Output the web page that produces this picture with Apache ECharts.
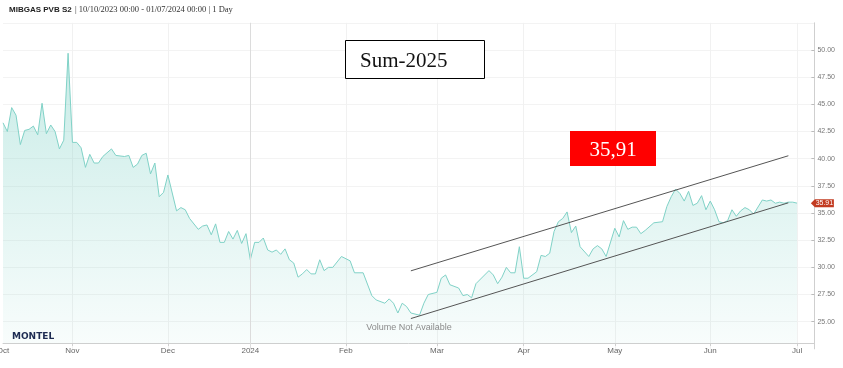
<!DOCTYPE html>
<html><head><meta charset="utf-8">
<script src="https://cdn.jsdelivr.net/npm/echarts@6/dist/echarts.min.js"></script>
<style>html,body{margin:0;padding:0;background:#fff}#c{width:843px;height:368px}</style>
</head><body><div id="c"></div>
<script>
// ---- data ----
const axisStart = '2023-10-10';
const axisEnd = '2024-07-05';
const holidays = ['2023-12-25','2023-12-26','2024-01-01','2024-03-29','2024-04-01','2024-05-01'];
const monthNames = ['Jan','Feb','Mar','Apr','May','Jun','Jul','Aug','Sep','Oct','Nov','Dec'];

const priceDates = [
'2023-10-10','2023-10-11','2023-10-12','2023-10-13','2023-10-16','2023-10-17','2023-10-18','2023-10-19','2023-10-20','2023-10-23','2023-10-24','2023-10-25','2023-10-26','2023-10-27','2023-10-30','2023-10-31',
'2023-11-01','2023-11-02','2023-11-03','2023-11-06','2023-11-07','2023-11-08','2023-11-09','2023-11-10','2023-11-14','2023-11-15','2023-11-17','2023-11-20','2023-11-21','2023-11-22','2023-11-23','2023-11-24','2023-11-27','2023-11-28','2023-11-29','2023-11-30',
'2023-12-01','2023-12-05','2023-12-06','2023-12-07','2023-12-08','2023-12-12','2023-12-13','2023-12-14','2023-12-15','2023-12-18','2023-12-19','2023-12-20','2023-12-21','2023-12-22','2023-12-27','2023-12-28','2023-12-29',
'2024-01-02','2024-01-03','2024-01-04','2024-01-05','2024-01-08','2024-01-09','2024-01-10','2024-01-11','2024-01-12','2024-01-15','2024-01-16','2024-01-17','2024-01-18','2024-01-19','2024-01-22','2024-01-23','2024-01-24','2024-01-25','2024-01-26','2024-01-29','2024-01-31',
'2024-02-02','2024-02-05','2024-02-07','2024-02-09','2024-02-12','2024-02-14','2024-02-15','2024-02-16','2024-02-19','2024-02-20','2024-02-21','2024-02-22','2024-02-26','2024-02-27','2024-02-28',
'2024-03-01','2024-03-04','2024-03-05','2024-03-06','2024-03-08','2024-03-11','2024-03-12','2024-03-13','2024-03-14','2024-03-19','2024-03-20','2024-03-21','2024-03-22','2024-03-25','2024-03-26','2024-03-27','2024-03-28',
'2024-04-02','2024-04-03','2024-04-05','2024-04-08','2024-04-09','2024-04-10','2024-04-11','2024-04-12','2024-04-15','2024-04-16','2024-04-17','2024-04-18','2024-04-19','2024-04-23','2024-04-24','2024-04-25','2024-04-26','2024-04-29',
'2024-05-02','2024-05-03','2024-05-06','2024-05-07','2024-05-08','2024-05-09','2024-05-10','2024-05-13','2024-05-15','2024-05-17','2024-05-20','2024-05-21','2024-05-22','2024-05-23','2024-05-24','2024-05-27','2024-05-28','2024-05-29','2024-05-30','2024-05-31',
'2024-06-03','2024-06-04','2024-06-05','2024-06-06','2024-06-07','2024-06-10','2024-06-11','2024-06-12','2024-06-13','2024-06-14','2024-06-17','2024-06-19','2024-06-20','2024-06-21','2024-06-24','2024-06-25','2024-06-26','2024-06-27','2024-06-28',
'2024-07-01'];
const priceValues = [
43.3,42.5,44.7,44.0,41.3,42.6,42.7,43.0,42.2,45.1,42.3,43.1,42.5,40.9,41.7,49.7,
41.5,41.5,41.0,39.2,40.4,39.6,39.6,40.2,40.9,40.3,40.2,40.3,39.2,39.5,40.3,40.5,38.6,39.6,36.5,36.9,
38.5,35.2,35.5,35.3,34.5,33.5,33.8,33.9,33.0,34.0,32.3,32.3,33.3,32.6,33.4,32.2,33.1,
30.7,32.3,32.3,32.7,31.6,31.4,31.6,31.2,31.7,30.7,30.4,29.1,29.4,29.8,29.4,29.4,30.7,29.7,30.0,30.0,31.0,
30.6,29.5,29.5,27.4,27.0,26.7,27.1,26.7,25.8,26.7,26.4,25.8,25.6,26.7,27.5,
27.7,29.0,29.3,28.4,28.1,27.4,27.5,27.2,28.5,29.7,29.3,28.5,29.1,30.0,29.5,29.5,31.9,
29.0,29.0,29.6,31.1,31.0,31.3,33.3,34.2,34.5,35.1,33.2,33.8,31.9,31.0,31.7,32.0,31.7,31.0,
33.6,32.8,34.3,33.5,33.7,33.7,33.1,33.4,34.1,34.2,35.6,36.5,37.2,36.8,36.1,37.0,35.7,35.9,36.6,35.3,
36.1,35.3,34.2,34.1,34.3,35.3,34.7,35.2,35.5,35.3,34.9,36.2,36.1,36.2,35.9,36.0,35.9,36.0,36.0,
35.91];

const trendDates = ['2024-02-22','2024-06-27'];
const upperTrendValues = [29.68, 40.27];
const lowerTrendValues = [25.29, 35.94];
const lastValue = 35.91;
const yMin = 22.5, yMax = 52.5, yStep = 2.5;
const yearMarkDate = '2024-01-02';

// ---- trading-day categories ----
function tradingDays(start, end, hol) {
  const out = [];
  let d = new Date(start + 'T00:00:00Z');
  const e = new Date(end + 'T00:00:00Z');
  while (d <= e) {
    const wd = d.getUTCDay();
    const s = d.toISOString().slice(0, 10);
    if (wd !== 0 && wd !== 6 && hol.indexOf(s) < 0) out.push(s);
    d = new Date(d.getTime() + 86400000);
  }
  return out;
}
const categories = tradingDays(axisStart, axisEnd, holidays);
function isMonthStart(i) {
  return i === 0 || categories[i].slice(0, 7) !== categories[i - 1].slice(0, 7);
}
const zip = (a, b) => a.map((v, i) => [v, b[i]]);

const chart = echarts.init(document.getElementById('c'), null, {renderer: 'canvas'});
chart.setOption({
  animation: false,
  backgroundColor: '#fff',
  grid: {left: 3, right: 28.6, top: 22.83, bottom: 19.13, containLabel: false, outerBoundsMode: 'none'},
  xAxis: {
    type: 'category', data: categories, boundaryGap: false, offset: -5.87,
    axisLine: {lineStyle: {color: '#cfcfcf', width: 1}},
    axisTick: {show: true, length: 3, interval: (i) => i > 0 && isMonthStart(i), lineStyle: {color: '#cfcfcf'}},
    axisLabel: {
      interval: (i) => isMonthStart(i), color: '#666', fontSize: 8, margin: 4,
      fontFamily: 'Liberation Sans',
      formatter: (v) => { const m = +v.slice(5, 7); return m === 1 ? v.slice(0, 4) : monthNames[m - 1]; }
    },
    splitLine: {show: true, interval: (i) => i > 0 && isMonthStart(i), lineStyle: {color: '#f1f1f1', width: 1}}
  },
  yAxis: {
    type: 'value', position: 'right', min: yMin, max: yMax, interval: yStep,
    axisLine: {show: true, lineStyle: {color: '#cfcfcf'}},
    axisTick: {show: true, inside: true, length: 3, lineStyle: {color: '#bbb'}},
    axisLabel: {color: '#777', fontSize: 7, margin: 3, fontFamily: 'Liberation Sans',
      showMinLabel: false, showMaxLabel: false, formatter: (v) => v.toFixed(2)},
    splitLine: {show: true, showMinLine: false, lineStyle: {color: '#f3f3f3'}}
  },
  series: [
    {
      type: 'line', data: zip(priceDates, priceValues), showSymbol: false, symbol: 'none',
      lineStyle: {color: '#80d2c7', width: 1},
      itemStyle: {color: '#80d2c7'},
      areaStyle: {origin: 23.02, color: new echarts.graphic.LinearGradient(0, 0, 0, 1, [
        {offset: 0, color: 'rgba(128,210,199,0.62)'},
        {offset: 1, color: 'rgba(128,210,199,0.08)'}
      ])},
      markLine: {silent: true, symbol: ['none', 'none'], label: {show: false},
        lineStyle: {color: '#dcdcdc', type: 'solid', width: 1},
        data: [{xAxis: yearMarkDate}]},
      markPoint: {
        symbol: 'path://M0,4L4,0L23,0L23,8L4,8Z', symbolSize: [23, 8], symbolOffset: [8, 0],
        itemStyle: {color: '#c23b21'},
        label: {show: true, formatter: lastValue.toFixed(2), color: '#fff', fontSize: 7, offset: [2, 0], fontFamily: 'Liberation Sans'},
        data: [{coord: [categories[categories.length - 1], lastValue]}]
      },
      z: 2
    },
    {type: 'line', data: zip(trendDates, upperTrendValues), showSymbol: false, symbol: 'none',
      lineStyle: {color: '#555', width: 1}, z: 3},
    {type: 'line', data: zip(trendDates, lowerTrendValues), showSymbol: false, symbol: 'none',
      lineStyle: {color: '#555', width: 1}, z: 3}
  ],
  graphic: [
    {type: 'text', left: 9, top: 4, z: 10, style: {
      text: '{b|MIBGAS PVB S2} {s|| 10/10/2023 00:00 - 01/07/2024 00:00 | 1 Day}',
      rich: {
        b: {font: 'bold 8px "Liberation Sans"', fill: '#222'},
        s: {font: '8.5px "Liberation Serif"', fill: '#333'}
      }}},
    {type: 'rect', z: 10, shape: {x: 345.5, y: 40.5, width: 139, height: 38},
      style: {fill: '#fff', stroke: '#000', lineWidth: 1}},
    {type: 'text', z: 11, style: {x: 360, y: 61, text: 'Sum-2025', font: '21px "Liberation Serif"',
      fill: '#111', textAlign: 'left', textVerticalAlign: 'middle'}},
    {type: 'rect', z: 10, shape: {x: 570, y: 131, width: 86, height: 35}, style: {fill: '#ff0000'}},
    {type: 'text', z: 11, style: {x: 613, y: 150, text: '35,91', font: '21px "Liberation Serif"',
      fill: '#fff', textAlign: 'center', textVerticalAlign: 'middle'}},
    {type: 'text', z: 10, style: {x: 409, y: 328, text: 'Volume Not Available', font: '9px "Liberation Sans"',
      fill: '#8a8a8a', textAlign: 'center', textVerticalAlign: 'middle'}},
    {type: 'text', z: 10, style: {x: 12, y: 337, text: 'MONTEL', font: 'bold 9px "DejaVu Sans"',
      fill: '#1d2b52', textAlign: 'left', textVerticalAlign: 'middle'}}
  ]
});
</script></body></html>
